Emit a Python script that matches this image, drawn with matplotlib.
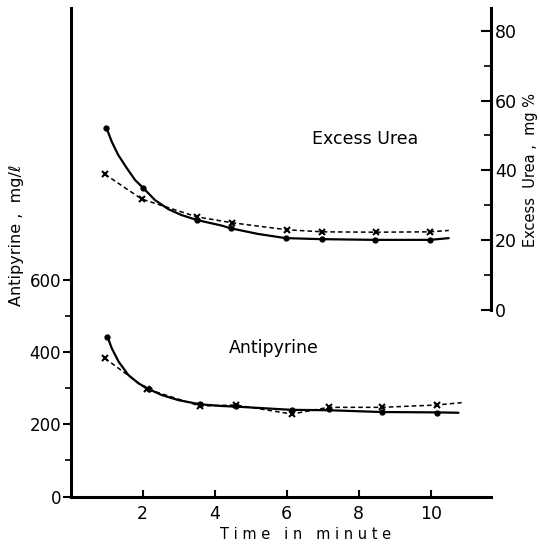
import matplotlib
matplotlib.use("Agg")
import matplotlib.pyplot as plt
from matplotlib.ticker import FixedLocator

# ---- data ----
# Excess Urea (right axis, mg %)
urea_dot_t = [0.99, 2.02, 3.5, 4.45, 5.97, 6.97, 8.45, 9.98]
urea_dot_v = [52.2, 34.9, 25.8, 23.4, 20.6, 20.3, 20.1, 20.1]
urea_fit_t = [0.99, 1.14, 1.32, 1.56, 1.79, 2.02, 2.34, 2.71, 3.08, 3.5, 4.19, 4.45, 5.2, 5.97, 6.97, 8.45, 9.98, 10.5]
urea_fit_v = [52.2, 48.2, 44.4, 40.6, 37.2, 34.9, 31.5, 28.9, 27.2, 25.8, 24.2, 23.4, 21.8, 20.6, 20.3, 20.1, 20.1, 20.6]
urea_x_t = [0.95, 1.97, 3.5, 4.48, 6.0, 6.99, 8.47, 9.98, 10.5]
urea_x_v = [38.9, 31.8, 26.7, 25.0, 23.0, 22.4, 22.3, 22.4, 22.8]
urea_x_mark_n = 8

# Antipyrine (left axis, mg/l)
anti_dot_t = [1.02, 2.16, 3.59, 4.59, 6.14, 7.16, 8.64, 10.17]
anti_dot_v = [442.7, 297.8, 255.4, 250.7, 239.6, 241.5, 233, 232]
anti_fit_t = [1.02, 1.14, 1.33, 1.6, 1.88, 2.16, 2.53, 2.99, 3.59, 4.19, 4.59, 6.14, 7.16, 8.64, 10.17, 10.77]
anti_fit_v = [442.7, 410.5, 373.4, 336.5, 313.6, 297.8, 281, 267, 255.4, 250.7, 249, 240, 239, 234, 233, 232]
anti_x_t = [0.95, 2.11, 3.59, 4.59, 6.14, 7.16, 8.64, 10.17, 10.86]
anti_x_v = [382.8, 297.8, 250.7, 253.5, 228.5, 247, 247, 253.5, 260]
anti_x_mark_n = 8

x_ticks = [2, 4, 6, 8, 10]
left_ticks = [0, 200, 400, 600]
left_minor = [100, 300, 500]
right_ticks = [0, 20, 40, 60, 80]
right_minor = [10, 30, 50, 70]

plt.rcParams['font.family'] = ['DejaVu Sans']

fig = plt.figure(figsize=(5.40, 5.49), dpi=100)
ax = fig.add_axes([0.131, 0.0956, 0.778, 0.8898])
ax.set_xlim(0, 11.67)
ax.set_ylim(0, 1353)

for s in ['top', 'right']:
    ax.spines[s].set_visible(False)
for s in ['left', 'bottom']:
    ax.spines[s].set_linewidth(2.2)

ax.xaxis.set_major_locator(FixedLocator(x_ticks))
ax.yaxis.set_major_locator(FixedLocator(left_ticks))
ax.yaxis.set_minor_locator(FixedLocator(left_minor))
ax.tick_params(axis='x', direction='in', length=5, width=1.5, labelsize=12.5, pad=6)
ax.tick_params(axis='y', which='major', direction='out', length=6, width=1.5, labelsize=12, pad=1)
ax.tick_params(axis='y', which='minor', direction='out', length=4, width=1.2)

# Antipyrine curves
ax.plot(anti_fit_t, anti_fit_v, color='black', lw=1.6, solid_capstyle='round', solid_joinstyle='round')
ax.plot(anti_dot_t, anti_dot_v, ls='none', marker='o', ms=3.5, color='black')
ax.plot(anti_x_t, anti_x_v, color='black', lw=1.1, ls=(0, (3, 2)))
ax.plot(anti_x_t[:anti_x_mark_n], anti_x_v[:anti_x_mark_n], ls='none', marker='x', ms=5, mew=1.5, color='black')

# right axis for Excess Urea
ax2 = ax.twinx()
ax2.set_ylim(-53.4, 86.5)
for s in ['top', 'left', 'bottom']:
    ax2.spines[s].set_visible(False)
ax2.spines['right'].set_linewidth(2.2)
ax2.spines['right'].set_bounds(0, 86.5)
ax2.yaxis.set_major_locator(FixedLocator(right_ticks))
ax2.yaxis.set_minor_locator(FixedLocator(right_minor))
ax2.tick_params(axis='y', which='major', direction='in', length=7, width=1.5, labelsize=12.5, pad=3)
ax2.tick_params(axis='y', which='minor', direction='in', length=5, width=1.2)

ax2.plot(urea_fit_t, urea_fit_v, color='black', lw=1.6, solid_capstyle='round', solid_joinstyle='round')
ax2.plot(urea_dot_t, urea_dot_v, ls='none', marker='o', ms=3.5, color='black')
ax2.plot(urea_x_t, urea_x_v, color='black', lw=1.1, ls=(0, (3, 2)))
ax2.plot(urea_x_t[:urea_x_mark_n], urea_x_v[:urea_x_mark_n], ls='none', marker='x', ms=5, mew=1.5, color='black')

# text labels
fig.text(0.676, 0.747, 'Excess Urea', fontsize=12.5, ha='center', va='center')
fig.text(0.507, 0.366, 'Antipyrine', fontsize=12.5, ha='center', va='center')
fig.text(0.565, 0.027, 'T i m e   i n   m i n u t e', fontsize=10.5, ha='center', va='center')
fig.text(0.03, 0.572, 'Antipyrine ,  mg/ℓ', fontsize=11.5, rotation=90, ha='center', va='center')
fig.text(0.983, 0.69, 'Excess  Urea ,  mg %', fontsize=10.5, rotation=90, ha='center', va='center')

fig.savefig('out.png', dpi=100)
